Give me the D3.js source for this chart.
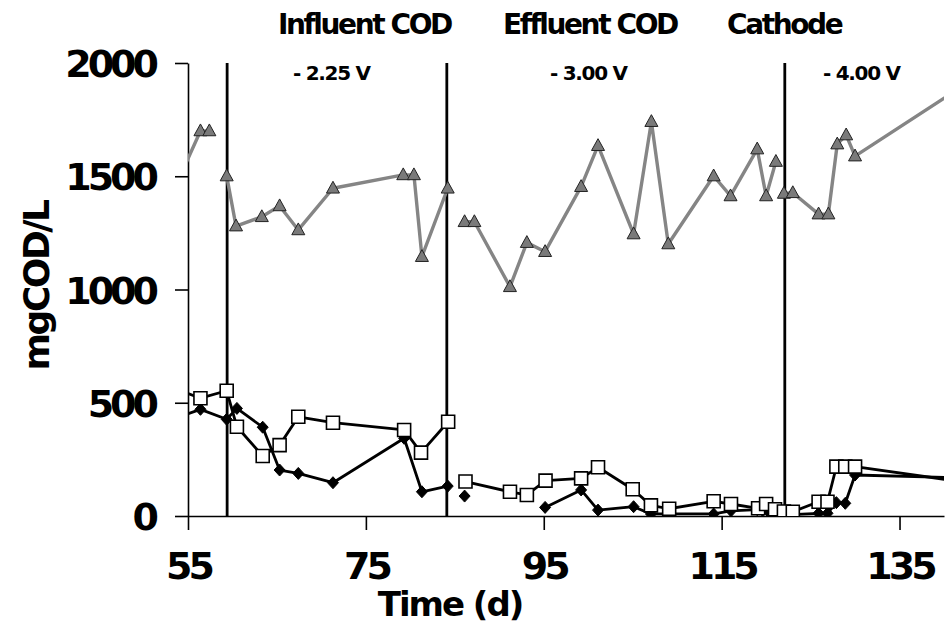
<!doctype html>
<html>
<head>
<meta charset="utf-8">
<style>
    body { margin: 0; background: #fff; }
    text { font-family: "DejaVu Sans", sans-serif; font-weight: bold; fill: #000; }
</style>
<script src="https://d3js.org/d3.v7.min.js"></script>
</head>
<body>
<svg id="chart" width="949" height="628"></svg>
<script>
    // Influent COD (grey triangles); null = break in the line
    var inflDay = [54, 56.4, 57.4, null, 59.35, 60.4, 63.3, 65.3, 67.4, 71.3, 79.2, 80.4, 81.3, 84.2, null,
                   86.1, 87.2, 91.2, 93.1, 95.15, 99.2, 101.1, 105.1, 107.1, 109.0, 114.1, 116.0, 119.0, 120.0, 121.1, null,
                   122.0, 123.0, 125.9, 127.0, 128.0, 129.0, 130.0, 141];
    var inflVal = [1490, 1700, 1700, null, 1501, 1280, 1321, 1369, 1263, 1447, 1506, 1506, 1145, 1447, null,
                   1299, 1299, 1012, 1207, 1167, 1454, 1635, 1245, 1741, 1201, 1501, 1413, 1620, 1413, 1565, null,
                   1424, 1427, 1333, 1333, 1642, 1682, 1589, 1870];

    // Effluent COD (open squares)
    var effDay = [54, 56.4, 59.35, 60.5, 63.4, 65.3, 67.4, 71.3, 79.3, 81.2, 84.25, null,
                  86.2, 91.2, 93.1, 95.2, 99.2, 101.1, 105.0, 107.05, 109.1, 114.1, 116.05, 119.1, 120.0, 121.0, 122.0,
                  123.0, 125.9, 126.9, 127.9, 128.9, 130.0, 141.5];
    var effVal = [555, 520, 553, 394, 265, 313, 438, 412, 380, 280, 416, null,
                  152, 107, 93, 156, 166, 215, 118, 47, 32, 65, 53, 34, 53, 30, 20,
                  19, 63, 63, 218, 218, 218, 154];

    // Cathode (black diamonds)
    var catDay = [54, 56.4, 59.35, 60.5, 63.4, 65.3, 67.4, 71.3, 79.3, 81.3, 84.2, null, 86.1, null,
                  95.15, 99.2, 101.1, 105.1, 107.05, 109.1, 114.1, 116.05, 119.0, 119.6, 120.2, 120.8, 121.5, 122.2,
                  125.9, 126.9, 127.9, 128.9, 130.0, 141.5];
    var catVal = [437, 471, 427, 475, 392, 203, 188, 147, 343, 107, 132, null, 88, null,
                  38, 115, 26, 41, 9, 9, 9, 23, 28, 25, 22, 18, 12, 5,
                  12, 12, 59, 56, 181, 169];

    var phaseDays = [59.4, 84.1, 122.1];
    var seriesNames = ["Influent COD", "Effluent COD", "Cathode"];
    var phaseNames = ["- 2.25 V", "- 3.00 V", "- 4.00 V"];
    var xTicks = [55, 75, 95, 115, 135];
    var yTicks = [0, 500, 1000, 1500, 2000];

    function zip(days, vals) {
        return days.map(function(d, i) { return { d: d, v: vals[i] }; });
    }

    var svg = d3.select("#chart");
    var x = d3.scaleLinear().domain([55, 140]).range([188, 944]);
    var y = d3.scaleLinear().domain([0, 2000]).range([516, 63]);

    svg.append("defs").append("clipPath").attr("id", "plot")
       .append("rect").attr("x", 188).attr("y", 0).attr("width", 756).attr("height", 516);

    // axes
    var yAxis = svg.append("g")
        .attr("transform", "translate(188,0)")
        .call(d3.axisLeft(y).tickValues(yTicks).tickFormat(d3.format("d"))
              .tickSize(13).tickSizeOuter(0).tickPadding(20));
    yAxis.selectAll("text").attr("font-size", "38px").attr("letter-spacing", "-4px")
         .attr("font-family", null).attr("dy", "0.36em");

    var xAxis = svg.append("g")
        .attr("transform", "translate(0,516)")
        .call(d3.axisBottom(x).tickValues(xTicks).tickSize(14).tickSizeOuter(0).tickPadding(22));
    xAxis.selectAll("text").attr("font-size", "38px").attr("letter-spacing", "-4px").attr("font-family", null);

    svg.selectAll(".domain, .tick line").attr("stroke", "#000").attr("stroke-width", 1.6);

    svg.append("text")
       .attr("transform", "translate(49,286) rotate(-90)")
       .attr("text-anchor", "middle")
       .attr("font-size", "36px")
       .attr("letter-spacing", "-2.5px")
       .text("mgCOD/L");

    svg.append("text")
       .attr("x", 450).attr("y", 616)
       .attr("text-anchor", "middle")
       .attr("font-size", "34px")
       .attr("letter-spacing", "-2px")
       .text("Time (d)");

    // phase separators
    svg.selectAll(".phase")
       .data(phaseDays)
       .enter().append("line")
       .attr("x1", function(d) { return x(d); })
       .attr("x2", function(d) { return x(d); })
       .attr("y1", y(2000)).attr("y2", y(0))
       .attr("stroke", "#000").attr("stroke-width", 2.8);

    // labels at the top
    var topX = [278, 503, 727];
    svg.selectAll(".series-name")
       .data(seriesNames)
       .enter().append("text")
       .attr("x", function(d, i) { return topX[i]; })
       .attr("y", 34)
       .attr("font-size", "28px")
       .attr("letter-spacing", "-2.4px")
       .text(function(d) { return d; });

    var voltX = [293, 550, 823];
    svg.selectAll(".phase-name")
       .data(phaseNames)
       .enter().append("text")
       .attr("x", function(d, i) { return voltX[i]; })
       .attr("y", 80)
       .attr("font-size", "20px")
       .attr("letter-spacing", "-1.3px")
       .text(function(d) { return d; });

    var plot = svg.append("g").attr("clip-path", "url(#plot)");

    var line = d3.line()
        .defined(function(p) { return p.v != null; })
        .x(function(p) { return x(p.d); })
        .y(function(p) { return y(p.v); });

    function drawSeries(data, lineColor, lineWidth, shape, fill, stroke, strokeWidth) {
        plot.append("path")
            .datum(data)
            .attr("fill", "none")
            .attr("stroke", lineColor)
            .attr("stroke-width", lineWidth)
            .attr("stroke-linejoin", "round")
            .attr("d", line);
        plot.append("g").selectAll("path")
            .data(data.filter(function(p) { return p.v != null; }))
            .enter().append("path")
            .attr("transform", function(p) { return "translate(" + x(p.d) + "," + y(p.v) + ")"; })
            .attr("d", shape)
            .attr("fill", fill)
            .attr("stroke", stroke)
            .attr("stroke-width", strokeWidth);
    }

    var triangle = "M0,-7L6.5,4.8L-6.5,4.8Z";
    var square = "M-6.5,-6.5H6.5V6.5H-6.5Z";
    var diamond = "M0,-6L5.5,0L0,6L-5.5,0Z";

    drawSeries(zip(catDay, catVal), "#000", 2.8, diamond, "#000", "#000", 1);
    drawSeries(zip(effDay, effVal), "#000", 2.8, square, "#fff", "#000", 1.6);
    drawSeries(zip(inflDay, inflVal), "#858585", 3.4, triangle, "#7a7a7a", "#222", 1);
</script>
</body>
</html>
